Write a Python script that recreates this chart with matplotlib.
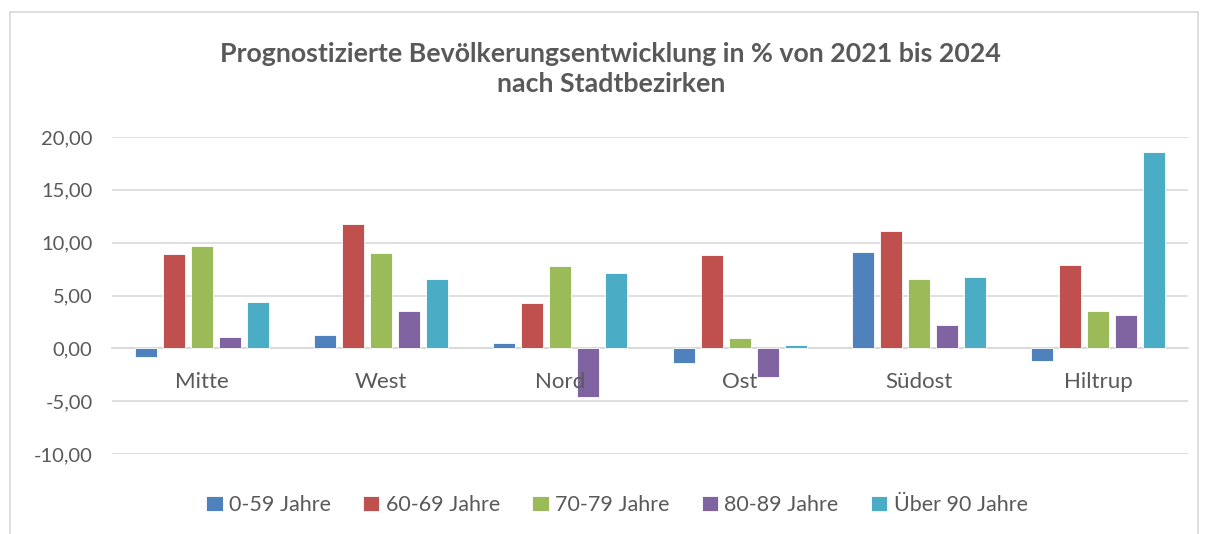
import numpy as np
import matplotlib.pyplot as plt
from matplotlib.patches import Rectangle
from matplotlib.ticker import FuncFormatter

bezirke = ['Mitte', 'West', 'Nord', 'Ost', 'Südost', 'Hiltrup']
gruppen = ['0-59 Jahre', '60-69 Jahre', '70-79 Jahre', '80-89 Jahre', 'Über 90 Jahre']

werte_0_59 = [-0.79, 1.23, 0.50, -1.36, 9.08, -1.17]
werte_60_69 = [8.90, 11.73, 4.26, 8.80, 11.14, 7.85]
werte_70_79 = [9.65, 8.99, 7.79, 1.01, 6.53, 3.53]
werte_80_89 = [1.04, 3.53, -4.57, -2.68, 2.18, 3.15]
werte_90 = [4.35, 6.53, 7.16, 0.32, 6.75, 18.55]

farben = ['#4F81BD', '#C0504D', '#9BBB59', '#8064A2', '#4BACC6']
textfarbe = '#595959'

plt.rcParams['font.family'] = ['Lato', 'DejaVu Sans']
plt.rcParams['axes.unicode_minus'] = False

fig = plt.figure(figsize=(12.05, 5.34), dpi=100)
ax = fig.add_axes([112 / 1205, 1 - 454 / 534, (1188 - 112) / 1205, (454 - 137) / 534])

# Rahmen um das Diagramm
fig.patches.append(Rectangle((10 / 1205, -0.05), (1198 - 10) / 1205, 1.05 - 12 / 534,
                             transform=fig.transFigure, fill=False,
                             edgecolor='#D9D9D9', linewidth=1.2))

x = np.arange(len(bezirke))
pitch = 0.156
breite = 0.123
alle = [werte_0_59, werte_60_69, werte_70_79, werte_80_89, werte_90]
for j, werte in enumerate(alle):
    ax.bar(x + (j - 2) * pitch, werte, breite, color=farben[j], label=gruppen[j],
           edgecolor='white', linewidth=0.6, zorder=3)

ax.set_xlim(-0.5, len(bezirke) - 0.5)
ax.set_ylim(-10, 20)
ax.set_yticks(np.arange(-10, 21, 5))
ax.yaxis.set_major_formatter(FuncFormatter(lambda v, p: f'{v:.2f}'.replace('.', ',')))
ax.grid(axis='y', color='#D9D9D9', linewidth=1.2, zorder=0)
ax.set_axisbelow(True)
for s in ['top', 'right', 'left']:
    ax.spines[s].set_visible(False)
ax.spines['bottom'].set_position(('data', 0))
ax.spines['bottom'].set_color('#D9D9D9')
ax.spines['bottom'].set_linewidth(1.2)
ax.set_xticks(x)
ax.set_xticklabels([])
ax.tick_params(axis='x', length=0)
ax.tick_params(axis='y', length=0, pad=14, labelsize=14.5, labelcolor=textfarbe)

# Kategoriebeschriftungen über den Balken zeichnen (wie in Excel)
for i, name in enumerate(bezirke):
    ax.annotate(name, (x[i], 0), xytext=(0, -24.5), textcoords='offset points',
                ha='center', va='center', fontsize=16, color=textfarbe, zorder=5)

fig.text(0.507, 1 - 69 / 534,
         'Prognostizierte Bevölkerungsentwicklung in % von 2021 bis 2024\nnach Stadtbezirken',
         ha='center', va='center', fontsize=19.3, fontweight='bold', color=textfarbe,
         linespacing=1.35)

leg = fig.legend(loc='center', bbox_to_anchor=(0.512, 1 - 505 / 534), ncol=5, frameon=False,
                 fontsize=15.5, handlelength=0.75, handleheight=0.75, handletextpad=0.3,
                 columnspacing=1.5)
for t in leg.get_texts():
    t.set_color(textfarbe)

fig.savefig('out.png', dpi=100)
